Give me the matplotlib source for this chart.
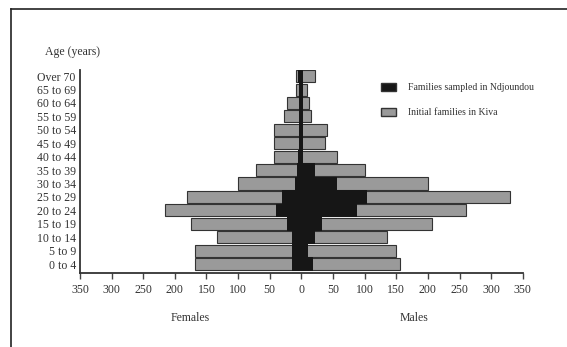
import numpy as np
import matplotlib.pyplot as plt
from matplotlib.patches import Patch
from matplotlib.lines import Line2D

ages = ["0 to 4", "5 to 9", "10 to 14", "15 to 19", "20 to 24", "25 to 29",
        "30 to 34", "35 to 39", "40 to 44", "45 to 49", "50 to 54",
        "55 to 59", "60 to 64", "65 to 69", "Over 70"]

# Initial families in Kiva (grey)
kiva_f = [168, 168, 133, 174, 216, 180, 100, 72, 44, 44, 44, 27, 23, 8, 8]
kiva_m = [156, 149, 135, 206, 260, 330, 200, 100, 57, 37, 40, 15, 12, 9, 21]
# Families sampled in Ndjoundou (black)
ndj_f = [15, 15, 15, 22, 40, 30, 10, 7, 5, 4, 4, 3, 3, 4, 5]
ndj_m = [18, 10, 21, 33, 88, 104, 56, 21, 3, 2, 3, 3, 3, 2, 2]

plt.rcParams['font.family'] = ['Liberation Serif', 'DejaVu Serif']

fig = plt.figure(figsize=(5.67, 3.47), dpi=100)
ax = fig.add_axes([0.141, 0.213, 0.781, 0.585])

y = np.arange(len(ages))
grey = '#9a9a9a'
h = 0.9
ax.barh(y, -np.array(kiva_f), height=h, color=grey, edgecolor='#333333', linewidth=0.8)
ax.barh(y, kiva_m, height=h, color=grey, edgecolor='#333333', linewidth=0.8)
ax.barh(y, -np.array(ndj_f), height=1.0, color='#161616', linewidth=0)
ax.barh(y, ndj_m, height=1.0, color='#161616', linewidth=0)

ax.set_xlim(-350, 350)
ax.set_ylim(-0.67, 14.45)
ticks = np.arange(-350, 351, 50)
ax.set_xticks(ticks)
ax.set_xticklabels([str(abs(t)) for t in ticks], fontsize=8.5, color='#333333')
ax.set_yticks(y)
ax.set_yticklabels(ages, fontsize=8.5, color='#333333')
ax.tick_params(axis='y', length=0, pad=3)
ax.tick_params(axis='x', length=4, width=1, color='#444444', pad=4)
for s in ['top', 'right']:
    ax.spines[s].set_visible(False)
for s in ['left', 'bottom']:
    ax.spines[s].set_linewidth(1.3)
    ax.spines[s].set_color('#333333')

fig.text(45 / 567, 1 - 52 / 347, "Age (years)", fontsize=8.5, color='#333333', va='center')
fig.text(190 / 567, 1 - 318 / 347, "Females", fontsize=8.5, color='#333333', ha='center', va='center')
fig.text(414 / 567, 1 - 318 / 347, "Males", fontsize=8.5, color='#333333', ha='center', va='center')

handles = [Patch(facecolor='#161616', edgecolor='#333333'),
           Patch(facecolor=grey, edgecolor='#333333')]
labels = ["Families sampled in Ndjoundou", "Initial families in Kiva"]
fig.legend(handles, labels, loc='upper left', bbox_to_anchor=(372 / 567, 1 - 74 / 347),
           frameon=False, fontsize=7, labelspacing=1.6, handlelength=1.6,
           handleheight=0.9, handletextpad=1.2, labelcolor='#333333')

fig.add_artist(Line2D([11 / 567, 11 / 567], [0, 1 - 9 / 347], color='#222222', lw=1.2))
fig.add_artist(Line2D([11 / 567, 1], [1 - 9 / 347, 1 - 9 / 347], color='#222222', lw=1.2))

fig.savefig('out.png', dpi=100)
